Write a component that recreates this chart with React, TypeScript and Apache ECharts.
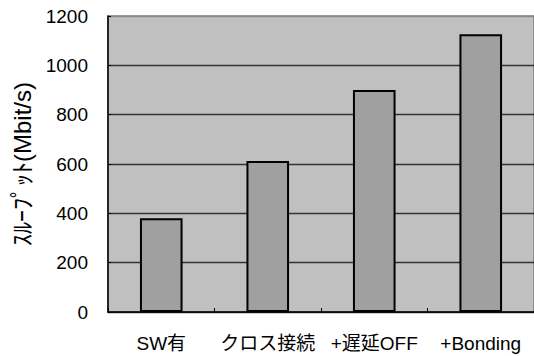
import React, { useEffect, useRef } from "react";
import * as echarts from "echarts";

const categories = ["SW有", "クロス接続", "+遅延OFF", "+Bonding"];
const throughput = [380, 612, 900, 1126];
const yAxisTitle = "ｽﾙｰﾌﾟｯﾄ(Mbit/s)";

const FONT = "'Liberation Sans', Arial, 'Noto Sans CJK JP', sans-serif";

export default function App() {
  const ref = useRef<HTMLDivElement>(null);
  useEffect(() => {
    if (!ref.current) return;
    const chart = echarts.init(ref.current, null, { renderer: "svg" });
    chart.setOption({
      animation: false,
      backgroundColor: "#ffffff",
      grid: {
        left: 108,
        top: 16,
        width: 428,
        height: 296,
        show: true,
        backgroundColor: "#c0c0c0",
        borderColor: "#808080",
        borderWidth: 1.5,
      },
      xAxis: {
        type: "category",
        data: categories,
        axisLine: { show: true, lineStyle: { color: "#000", width: 1.5 } },
        axisTick: { show: true, inside: true, length: 4, lineStyle: { color: "#000", width: 1 } },
        axisLabel: { color: "#000", fontSize: 19, fontFamily: FONT, margin: 22, interval: 0 },
      },
      yAxis: {
        type: "value",
        min: 0,
        max: 1200,
        interval: 200,
        name: yAxisTitle,
        nameLocation: "middle",
        nameGap: 71,
        nameRotate: 90,
        nameTextStyle: { color: "#000", fontSize: 24, fontFamily: FONT },
        axisLine: { show: true, lineStyle: { color: "#000", width: 1.5 } },
        axisTick: { show: true, inside: true, length: 3, lineStyle: { color: "#000" } },
        axisLabel: {
          color: "#000",
          fontSize: 19,
          fontFamily: FONT,
          margin: 20,
          formatter: (v: number) => String(v),
        },
        splitLine: {
          show: true,
          lineStyle: {
            color: ["#333", "#333", "#333", "#333", "#333", "#333", "#888"],
            width: 1.3,
          },
        },
      },
      series: [
        {
          type: "bar",
          data: throughput,
          barCategoryGap: "60%",
          itemStyle: { color: "#a0a0a0", borderColor: "#000", borderWidth: 2 },
        },
      ],
    });
    return () => chart.dispose();
  }, []);
  return <div ref={ref} style={{ width: 534, height: 356, position: "absolute", left: 0, top: 0 }} />;
}
